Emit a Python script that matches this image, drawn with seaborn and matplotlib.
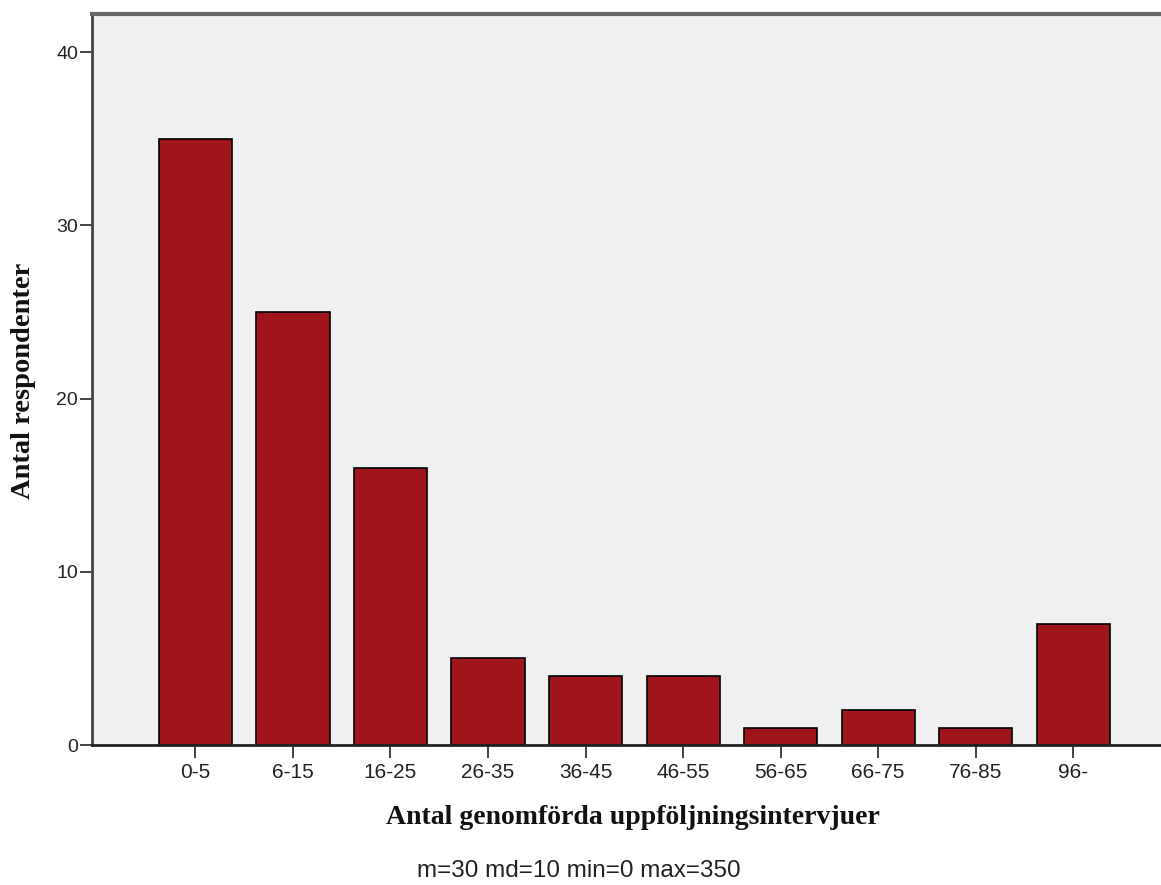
import matplotlib
matplotlib.use("Agg")
import matplotlib.pyplot as plt
import seaborn as sns
import pandas as pd

categories = ["0-5", "6-15", "16-25", "26-35", "36-45", "46-55", "56-65", "66-75", "76-85", "96-"]
counts = [35, 25, 16, 5, 4, 4, 1, 2, 1, 7]
x_label = "Antal genomförda uppföljningsintervjuer"
y_label = "Antal respondenter"
footnote = "m=30 md=10 min=0 max=350"
y_ticks = [0, 10, 20, 30, 40]

df = pd.DataFrame({"cat": categories, "n": counts})

sns.set_style("white")
plt.rcParams["font.family"] = ["Liberation Sans", "DejaVu Sans"]

W, H = 1161, 885
fig = plt.figure(figsize=(W / 100, H / 100), dpi=100)
ax_left, ax_top, ax_bottom = 92, 14, 745
ax_w = W - ax_left + 2
ax = fig.add_axes([ax_left / W, 1 - ax_bottom / H, ax_w / W, (ax_bottom - ax_top) / H])
ax.set_facecolor("#f0f0f0")

sns.barplot(data=df, x="cat", y="n", color="#a0151a", saturation=1, width=0.75,
            edgecolor="black", linewidth=1.2, ax=ax)

ax.set_xlim(-1.06, 9.92)
ax.set_ylim(0, 42.2)
ax.set_yticks(y_ticks)
ax.tick_params(axis="both", direction="out", length=9, width=1.2, color="#222222",
               labelcolor="#222222")
ax.tick_params(axis="x", bottom=True, labelsize=15, pad=4)
ax.tick_params(axis="y", left=True, labelsize=14, pad=1)

for side in ["left", "bottom", "top"]:
    ax.spines[side].set_visible(True)
ax.spines["right"].set_visible(False)
ax.spines["left"].set_color("#444444")
ax.spines["left"].set_linewidth(2)
ax.spines["bottom"].set_color("#222222")
ax.spines["bottom"].set_linewidth(2)
ax.spines["top"].set_color("#666666")
ax.spines["top"].set_linewidth(3)

ax_h = ax_bottom - ax_top
ax.set_xlabel(x_label, family="Liberation Serif", fontweight="bold", fontsize=20, color="#111111")
ax.xaxis.label.set_verticalalignment("baseline")
ax.xaxis.set_label_coords((633 - ax_left) / ax_w, (ax_bottom - 824) / ax_h)

ax.set_ylabel(y_label, family="Liberation Serif", fontweight="bold", fontsize=20.5, color="#111111")
ax.yaxis.label.set_verticalalignment("center")
ax.yaxis.set_label_coords((23 - ax_left) / ax_w, (ax_bottom - 381) / ax_h)

fig.text(417 / W, (H - 877) / H, footnote, ha="left", va="baseline", fontsize=17.5, color="#222222")

fig.savefig("out.png", dpi=100)
